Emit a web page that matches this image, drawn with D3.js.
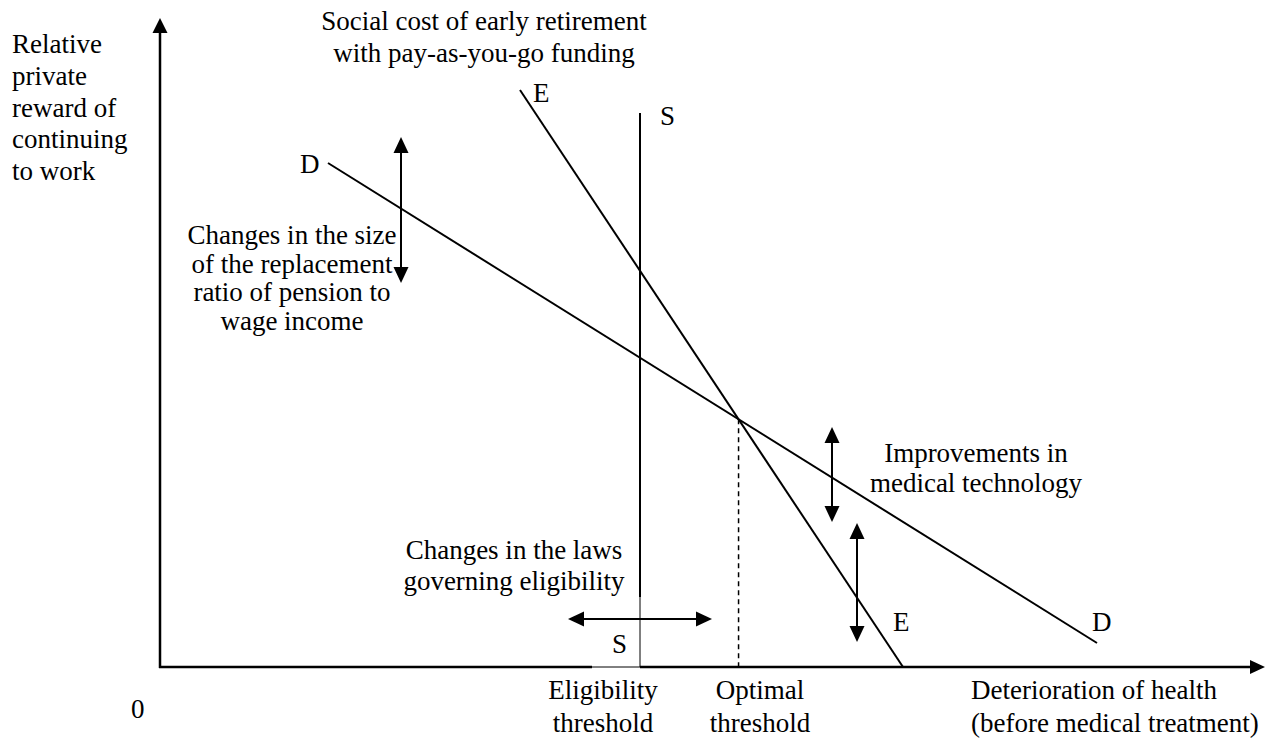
<!DOCTYPE html>
<html>
<head>
<meta charset="utf-8">
<script src="https://cdn.jsdelivr.net/npm/d3@7"></script>
</head>
<body style="margin:0;background:#fff">
<svg id="chart" width="1278" height="743"></svg>
<script>
// ---- Data (abstract diagram units) ----
const axisExtent = { x: [0, 110.5], y: [0, 64.9] };
const lineD = [[16.8, 50.4], [93.7, 2.4]];          // private reward curve D-D
const lineE = [[36.0, 57.7], [74.3, 0]];            // social cost curve E-E
const lineS = [[48.0, 0], [48.0, 55.4]];            // eligibility threshold S-S
const arrowReplacement = [[24.1, 38.4], [24.1, 53.0]];
const arrowMedical1 = [[67.2, 14.5], [67.2, 24.0]];
const arrowMedical2 = [[69.7, 2.5], [69.7, 14.4]];
const arrowEligibility = [[40.8, 4.8], [55.2, 4.8]];

const yAxisTitle = ["Relative", "private", "reward of", "continuing", "to work"];
const socialCostTitle = ["Social cost of early retirement", "with pay-as-you-go funding"];
const replacementNote = ["Changes in the size", "of the replacement", "ratio of pension to", "wage income"];
const medicalNote = ["Improvements in", "medical technology"];
const lawsNote = ["Changes in the laws", "governing eligibility"];
const eligibilityLabel = ["Eligibility", "threshold"];
const optimalLabel = ["Optimal", "threshold"];
const xAxisTitle = ["Deterioration of health", "(before medical treatment)"];
const originLabel = "0";

// ---- Scales ----
const x = d3.scaleLinear().domain([0, 110]).range([160, 1260]);
const y = d3.scaleLinear().domain([0, 65]).range([667, 17]);

const FONT = '"Liberation Serif", "Times New Roman", Times, serif';
const svg = d3.select("#chart");
const g = svg.append("g");

function seg(p, w, dash) {
  return g.append("line")
    .attr("x1", x(p[0][0])).attr("y1", y(p[0][1]))
    .attr("x2", x(p[1][0])).attr("y2", y(p[1][1]))
    .attr("stroke", "#000").attr("stroke-width", w)
    .attr("stroke-dasharray", dash || null);
}

function head(tip, dir, len, half) {
  const [tx, ty] = tip;
  const bx = tx - dir[0] * len, by = ty - dir[1] * len;
  const px = -dir[1] * half, py = dir[0] * half;
  g.append("path")
    .attr("d", `M${tx},${ty}L${bx + px},${by + py}L${bx - px},${by - py}Z`)
    .attr("fill", "#000");
}

function doubleArrow(p) {
  const x1 = x(p[0][0]), y1 = y(p[0][1]), x2 = x(p[1][0]), y2 = y(p[1][1]);
  const L = Math.hypot(x2 - x1, y2 - y1);
  const ux = (x2 - x1) / L, uy = (y2 - y1) / L;
  const hl = 16, hw = 7.5;
  g.append("line")
    .attr("x1", x1 + ux * hl * 0.8).attr("y1", y1 + uy * hl * 0.8)
    .attr("x2", x2 - ux * hl * 0.8).attr("y2", y2 - uy * hl * 0.8)
    .attr("stroke", "#000").attr("stroke-width", 2);
  head([x2, y2], [ux, uy], hl, hw);
  head([x1, y1], [-ux, -uy], hl, hw);
}

// ---- Axes ----
const x0 = x(0), y0 = y(0);
const xTip = x(axisExtent.x[1]), yTip = y(axisExtent.y[1]);
const sX = x(lineS[0][0]);
const boxLeft = sX - 48;
g.append("line").attr("x1", x0).attr("y1", y0 + 1).attr("x2", x0).attr("y2", yTip + 12)
  .attr("stroke", "#000").attr("stroke-width", 2.5);
head([x0, yTip], [0, -1], 15, 7.5);
g.append("line").attr("x1", x0 - 1).attr("y1", y0).attr("x2", boxLeft).attr("y2", y0)
  .attr("stroke", "#000").attr("stroke-width", 2.5);
g.append("line").attr("x1", boxLeft).attr("y1", y0).attr("x2", sX).attr("y2", y0)
  .attr("stroke", "#000").attr("stroke-width", 1);
g.append("line").attr("x1", sX).attr("y1", y0).attr("x2", xTip - 12).attr("y2", y0)
  .attr("stroke", "#000").attr("stroke-width", 2.5);
head([xTip, y0], [1, 0], 15, 7);

// ---- Curves ----
seg(lineD, 2);
seg(lineE, 2);
seg([[lineS[0][0], lineS[1][1]], [lineS[0][0], 7.0]], 2);
seg([[lineS[0][0], 7.0], [lineS[0][0], 0]], 1);

function intersect(a, b) {
  const [[x1, y1], [x2, y2]] = a, [[x3, y3], [x4, y4]] = b;
  const d = (x1 - x2) * (y3 - y4) - (y1 - y2) * (x3 - x4);
  const t = ((x1 - x3) * (y3 - y4) - (y1 - y3) * (x3 - x4)) / d;
  return [x1 + t * (x2 - x1), y1 + t * (y2 - y1)];
}
const opt = intersect(lineD, lineE);
seg([[opt[0], opt[1]], [opt[0], 0]], 1.5, "5,4");

// ---- Arrows ----
doubleArrow(arrowReplacement);
doubleArrow(arrowMedical1);
doubleArrow(arrowMedical2);
doubleArrow(arrowEligibility);

// ---- Text (one text element per line) ----
function block(lines, px, baselines, anchor) {
  lines.forEach((s, i) => {
    g.append("text")
      .attr("x", px).attr("y", baselines[i])
      .attr("text-anchor", anchor)
      .attr("font-family", FONT)
      .attr("font-size", 27)
      .attr("fill", "#000")
      .style("font-family", FONT)
      .text(s);
  });
}
block(yAxisTitle, 12, [53, 85, 117, 148, 180], "start");
block(socialCostTitle, 484, [30, 62], "middle");
block(replacementNote, 292, [244, 272.5, 301, 329.5], "middle");
block(medicalNote, 976, [462, 492], "middle");
block(lawsNote, 514, [559, 590], "middle");
block(eligibilityLabel, 603, [699, 732], "middle");
block(optimalLabel, 760, [699, 732], "middle");
block(xAxisTitle, 971, [699, 732], "start");
block([originLabel], 131, [718], "start");

block(["E"], 533, [102], "start");
block(["S"], 660, [125], "start");
block(["D"], 300, [173], "start");
block(["S"], 612, [653], "start");
block(["E"], 893, [631], "start");
block(["D"], 1092, [631], "start");
</script>
</body>
</html>
